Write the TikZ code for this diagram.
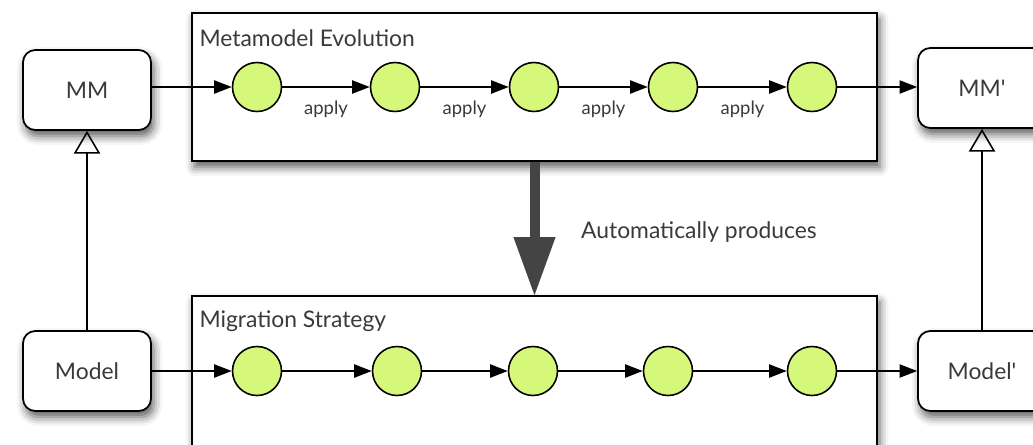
\documentclass[tikz,border=0pt]{standalone}
\usepackage{fontspec}
\setmainfont{Lato}
\usetikzlibrary{arrows.meta,positioning,shadows.blur}

\definecolor{stepgreen}{RGB}{214,248,122}
\definecolor{textgrey}{RGB}{58,58,58}
\definecolor{bigarrowgrey}{RGB}{68,68,68}

\tikzset{
  boxshadow/.style={blur shadow={shadow xshift=1.5pt, shadow yshift=-3.5pt, shadow blur radius=5pt, shadow opacity=65}},
  model/.style={draw, rounded corners=7pt, fill=white, line width=1pt, minimum width=2.56cm, minimum height=1.6cm, font=\fontsize{13}{15}\selectfont, text=textgrey, boxshadow},
  phase/.style={draw, fill=white, line width=1pt, minimum width=13.7cm, boxshadow},
  stepnode/.style={draw, circle, fill=stepgreen, line width=0.9pt, minimum size=0.98cm, inner sep=0pt},
  flow/.style={line width=0.9pt, -{Triangle[length=10pt,width=7.5pt]}},
  conforms/.style={line width=0.9pt, -{Triangle[open,length=13pt,width=15pt]}},
  produces/.style={line width=5.7pt, draw=bigarrowgrey, -{Triangle[length=33pt,width=24pt,line width=0pt]}},
  title/.style={font=\fontsize{13}{15}\selectfont, text=textgrey, inner sep=0pt},
  applylabel/.style={font=\fontsize{10.5}{12}\selectfont, text=textgrey, below=4pt, midway}
}

\begin{document}
\begin{tikzpicture}[x=0.02cm, y=-0.02cm]
  \clip (0,0) rectangle (1033,444);

  % Metamodel Evolution und Migration Strategy
  \node[phase, minimum height=2.96cm] (evo) at (534.5,87) {};
  \node[phase, minimum height=4cm] (mig) at (534.5,396) {};
  \node[title, anchor=base west] (evotitle) at ([shift={(8,34)}]evo.north west) {Metamodel Evolution};
  \node[title, anchor=base west] (migtitle) at ([shift={(8,32)}]mig.north west) {Migration Strategy};

  % Modelle
  \node[model] (MM) at (87,90) {MM};
  \node[model] (MMp) at (982,88) {MM\textquotesingle};
  \node[model] (model) at (87,371) {Model};
  \node[model] (modelp) at (982,371) {Model\textquotesingle};

  % Schritte der Evolution
  \node[stepnode] (e1) at (257,87) {};
  \node[stepnode] (e2) at (395,87) {};
  \node[stepnode] (e3) at (534,87) {};
  \node[stepnode] (e4) at (673,87) {};
  \node[stepnode] (e5) at (812,87) {};

  % Schritte der Migration
  \node[stepnode] (m1) at (257,371) {};
  \node[stepnode] (m2) at (397,371) {};
  \node[stepnode] (m3) at (533,371) {};
  \node[stepnode] (m4) at (668,371) {};
  \node[stepnode] (m5) at (812,371) {};

  % Pfeile oben
  \draw[flow] (MM.east |- e1) -- (e1);
  \draw[flow] (e1) -- node[applylabel] {apply} (e2);
  \draw[flow] (e2) -- node[applylabel] {apply} (e3);
  \draw[flow] (e3) -- node[applylabel] {apply} (e4);
  \draw[flow] (e4) -- node[applylabel] {apply} (e5);
  \draw[flow] (e5) -- (MMp.west |- e5);

  % Pfeile unten
  \draw[flow] (model) -- (m1);
  \draw[flow] (m1) -- (m2);
  \draw[flow] (m2) -- (m3);
  \draw[flow] (m3) -- (m4);
  \draw[flow] (m4) -- (m5);
  \draw[flow] (m5) -- (modelp);

  % Konformitaet
  \draw[conforms] (model) -- (MM);
  \draw[conforms] (modelp) -- (MMp);

  % automatisch erzeugt
  \draw[produces] (evo.south) -- (mig.north);
  \node[font=\fontsize{13}{15}\selectfont, text=textgrey, anchor=base west] (autolabel) at (575,238) {Automatically produces};
\end{tikzpicture}
\end{document}
